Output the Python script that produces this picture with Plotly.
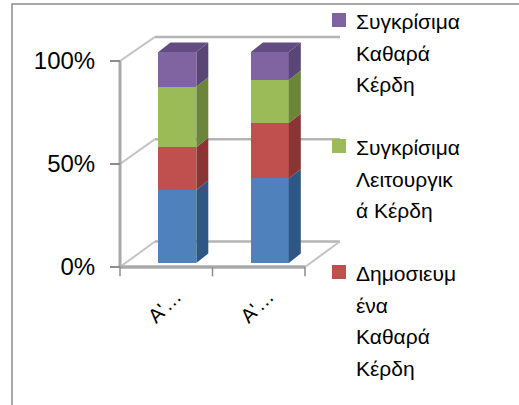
import plotly.graph_objects as go

# ---------------- data ----------------
categories = ["Α'…", "Α'…"]
series_names = [
    "Δημοσιευμένα Λειτουργικά Κέρδη",
    "Δημοσιευμένα Καθαρά Κέρδη",
    "Συγκρίσιμα Λειτουργικά Κέρδη",
    "Συγκρίσιμα Καθαρά Κέρδη",
]
legend_lines = [
    None,
    ["Δημοσιευμ", "ένα", "Καθαρά", "Κέρδη"],
    ["Συγκρίσιμα", "Λειτουργικ", "ά Κέρδη"],
    ["Συγκρίσιμα", "Καθαρά", "Κέρδη"],
]
blue_vals = [34.6, 40.1]
red_vals = [20.3, 26.2]
green_vals = [28.6, 20.4]
purple_vals = [16.5, 13.3]
series_vals = [blue_vals, red_vals, green_vals, purple_vals]
tick_vals = [0, 50, 100]
tick_text = ["0%", "50%", "100%"]

# ---------------- style ----------------
front_cols = ["#4F81BD", "#C0504D", "#9BBB59", "#8064A2"]
side_cols = ["#2F5786", "#8A3533", "#6B863A", "#5A4676"]
top_cols = ["#3D679B", "#9E3F3C", "#7E9E45", "#624C82"]
FONT = "Liberation Sans, Arial, sans-serif"
W, H = 519, 405
PL, PR, PT, PB = 112, 345, 30, 280
XPX0, XS = 120, 92.5          # x=-0.5 at px 120, px per unit
YPX0, YS = 267, 2.06          # front plane
Y2PX0, Y2S = 263, 2.11        # bar front faces
xrange_ = [-0.5 + (PL - XPX0) / XS, -0.5 + (PR - XPX0) / XS]
yrange_ = [-(PB - YPX0) / YS, (YPX0 - PT) / YS]
y2range_ = [-(PB - Y2PX0) / Y2S, (Y2PX0 - PT) / Y2S]

BDX = 35 / XS                 # frame depth offset
def back(v):
    return 12.4 + 0.993 * v

bar_shift = 0.12
bar_w = 0.41
DDX, DDY = 12 / XS, 4.5       # bar depth

def px2paper_x(px):
    return (px - PL) / (PR - PL)

def px2paper_y(py):
    return (PB - py) / (PB - PT)

fig = go.Figure()

# ---------------- 3D frame (front-plane axis y) ----------------
xl, xr = -0.5, len(categories) - 0.5
grid_col = "#b5b5b5"
def line(xs, ys, color=grid_col, width=2.5):
    fig.add_trace(go.Scatter(x=xs, y=ys, mode="lines", line=dict(color=color, width=width),
                             hoverinfo="skip", showlegend=False, xaxis="x", yaxis="y"))

for v in tick_vals:
    line([xl, xl + BDX], [v, back(v)], color="#c4c4c4", width=2)
    line([xl + BDX, xr + BDX], [back(v), back(v)])
line([xr, xr + BDX], [0, back(0)], color="#c4c4c4", width=2)
line([xl, xl], [0, 100], color="#a9a9a9", width=3)
line([xl, xr], [0, 0], color="#a9a9a9", width=3.5)
for i in range(len(categories) + 1):
    line([xl + i, xl + i], [0, -4.5], color="#8c8c8c", width=1.5)

# ---------------- bars (front faces) ----------------
xs_bar = [i + bar_shift for i in range(len(categories))]
for k, vals in enumerate(series_vals):
    fig.add_trace(go.Bar(x=xs_bar, y=vals, width=bar_w, name=series_names[k],
                         marker=dict(color=front_cols[k], line=dict(width=0)),
                         xaxis="x", yaxis="y2", showlegend=False))

# side faces and top
for k, vals in enumerate(series_vals):
    px_, py_ = [], []
    for i in range(len(categories)):
        base = sum(series_vals[j][i] for j in range(k))
        top = base + vals[i]
        x1 = xs_bar[i] + bar_w / 2
        px_ += [x1, x1 + DDX, x1 + DDX, x1, x1, None]
        py_ += [base, base + DDY, top + DDY, top, base, None]
    fig.add_trace(go.Scatter(x=px_, y=py_, fill="toself", fillcolor=side_cols[k], mode="lines",
                             line=dict(width=0, color=side_cols[k]), hoverinfo="skip",
                             showlegend=False, xaxis="x", yaxis="y2"))
tx, ty = [], []
for i in range(len(categories)):
    total = sum(series_vals[j][i] for j in range(len(series_vals)))
    x0 = xs_bar[i] - bar_w / 2
    x1 = xs_bar[i] + bar_w / 2
    tx += [x0, x1, x1 + DDX, x0 + DDX, x0, None]
    ty += [total, total, total + DDY, total + DDY, total, None]
fig.add_trace(go.Scatter(x=tx, y=ty, fill="toself", fillcolor=top_cols[3], mode="lines",
                         line=dict(width=0, color=top_cols[3]), hoverinfo="skip",
                         showlegend=False, xaxis="x", yaxis="y2"))

# ---------------- legend (manual, clipped like the original) ----------------
annotations, shapes = [], []
LEG_FS = 21
line_h = 31.5
baseline = 30
for k in [3, 2, 1]:
    lines = legend_lines[k]
    shapes.append(dict(type="rect", xref="paper", yref="paper",
                       x0=px2paper_x(332), x1=px2paper_x(346),
                       y0=px2paper_y(baseline - 17), y1=px2paper_y(baseline - 3),
                       fillcolor=front_cols[k], line=dict(width=0)))
    for j, t in enumerate(lines):
        b = baseline + j * line_h
        annotations.append(dict(text=t, xref="paper", yref="paper",
                                x=px2paper_x(354), y=px2paper_y(b - 22),
                                xanchor="left", yanchor="top", align="left", showarrow=False,
                                font=dict(family=FONT, size=LEG_FS, color="#000000")))
    baseline += (len(lines) + 1) * line_h

# outer chart border
shapes.append(dict(type="rect", xref="paper", yref="paper",
                   x0=px2paper_x(12), x1=px2paper_x(530),
                   y0=px2paper_y(420), y1=px2paper_y(4),
                   fillcolor="rgba(0,0,0,0)", line=dict(color="#8a8a8a", width=1.5)))

fig.update_layout(
    width=W, height=H,
    margin=dict(l=PL, r=W - PR, t=PT, b=H - PB, pad=0),
    paper_bgcolor="white", plot_bgcolor="white",
    barmode="stack", bargap=0,
    showlegend=False,
    font=dict(family=FONT, size=24, color="#000000"),
    annotations=annotations, shapes=shapes,
    xaxis=dict(range=xrange_, tickvals=[i + 0.1 for i in range(len(categories))],
               ticktext=categories, tickangle=-45, ticks="", showgrid=False,
               zeroline=False, showline=False, ticklabelstandoff=0,
               tickfont=dict(family=FONT, size=20, color="#000000")),
    yaxis=dict(range=yrange_, tickvals=tick_vals, ticktext=tick_text, ticks="outside",
               ticklen=10, tickwidth=1.5, tickcolor="#8c8c8c", showgrid=False,
               zeroline=False, showline=False, anchor="free",
               position=px2paper_x(XPX0), ticklabelstandoff=10,
               tickfont=dict(family=FONT, size=24, color="#000000")),
    yaxis2=dict(range=y2range_, overlaying="y", visible=False),
)

fig.write_html("out.html")
